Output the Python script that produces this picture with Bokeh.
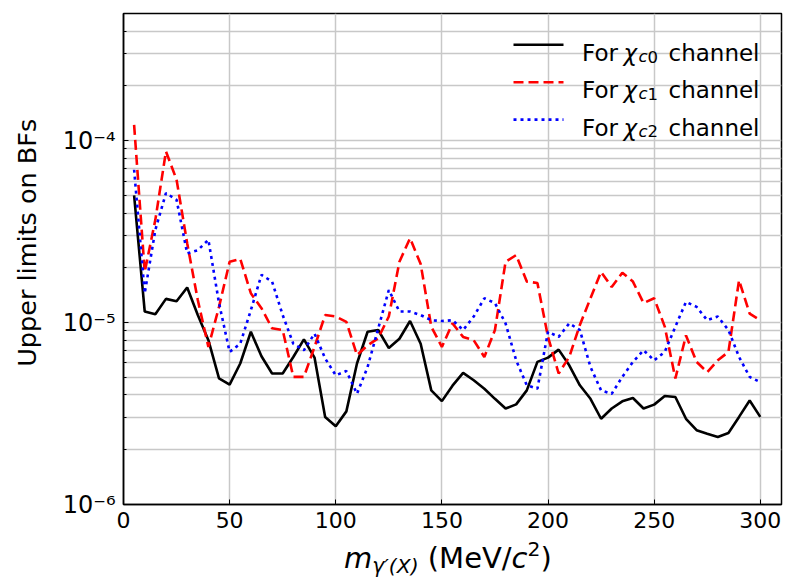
from bokeh.plotting import figure
from bokeh.models import Label, Arrow, FixedTicker, CustomJSTickFormatter, Range1d, Div
from bokeh.layouts import column
from bokeh.embed import file_html
from bokeh.resources import INLINE

# ---------------- data ----------------
mass = [5, 10, 15, 20, 25, 30, 35, 40, 45, 50, 55, 60, 65, 70, 75, 80, 85, 90, 95, 100,
        105, 110, 115, 120, 125, 130, 135, 140, 145, 150, 155, 160, 165, 170, 175, 180, 185, 190, 195, 200,
        205, 210, 215, 220, 225, 230, 235, 240, 245, 250, 255, 260, 265, 270, 275, 280, 285, 290, 295, 300]

ul_chic0 = [5.0e-5, 1.15e-5, 1.11e-5, 1.35e-5, 1.31e-5, 1.56e-5, 1.10e-5, 8.0e-6, 4.93e-6, 4.56e-6,
            5.96e-6, 8.9e-6, 6.53e-6, 5.25e-6, 5.25e-6, 6.47e-6, 8.08e-6, 6.42e-6, 3.03e-6, 2.69e-6,
            3.25e-6, 5.96e-6, 8.9e-6, 9.1e-6, 7.24e-6, 8.15e-6, 1.02e-5, 7.65e-6, 4.24e-6, 3.7e-6,
            4.5e-6, 5.29e-6, 4.82e-6, 4.33e-6, 3.81e-6, 3.37e-6, 3.55e-6, 4.24e-6, 6.08e-6, 6.42e-6,
            7.1e-6, 5.82e-6, 4.52e-6, 3.81e-6, 2.96e-6, 3.37e-6, 3.69e-6, 3.85e-6, 3.37e-6, 3.54e-6,
            3.95e-6, 3.9e-6, 2.96e-6, 2.56e-6, 2.45e-6, 2.35e-6, 2.47e-6, 3.03e-6, 3.73e-6, 3.03e-6]

ul_chic1 = [1.22e-4, 1.9e-5, 3.67e-5, 8.73e-5, 6.1e-5, 2.73e-5, 1.33e-5, 7.35e-6, 1.22e-5, 2.16e-5,
            2.24e-5, 1.45e-5, 1.2e-5, 9.3e-6, 9.1e-6, 5.03e-6, 5.03e-6, 7.35e-6, 1.1e-5, 1.08e-5,
            1.01e-5, 6.62e-6, 7.5e-6, 8.2e-6, 1.08e-5, 2.16e-5, 2.91e-5, 2.1e-5, 9.5e-6, 7.35e-6,
            9.9e-6, 8.34e-6, 8.0e-6, 6.47e-6, 9.1e-6, 2.16e-5, 2.35e-5, 1.68e-5, 1.65e-5, 8.34e-6,
            5.25e-6, 6.47e-6, 9.7e-6, 1.36e-5, 1.9e-5, 1.57e-5, 1.88e-5, 1.68e-5, 1.28e-5, 1.36e-5,
            9.5e-6, 4.93e-6, 8.5e-6, 6.08e-6, 5.34e-6, 6.2e-6, 6.9e-6, 1.71e-5, 1.12e-5, 1.03e-5]

ul_chic2 = [6.92e-5, 1.45e-5, 3.23e-5, 5.15e-5, 4.73e-5, 2.4e-5, 2.5e-5, 2.85e-5, 1.28e-5, 6.9e-6,
            7.65e-6, 1.17e-5, 1.83e-5, 1.68e-5, 1.1e-5, 7.65e-6, 7.05e-6, 8.7e-6, 6.35e-6, 5.13e-6,
            5.42e-6, 4.06e-6, 5.7e-6, 9.27e-6, 1.51e-5, 1.15e-5, 1.15e-5, 1.1e-5, 1.03e-5, 1.02e-5,
            1.03e-5, 9.1e-6, 1.08e-5, 1.36e-5, 1.28e-5, 9.9e-6, 6.2e-6, 4.52e-6, 4.33e-6, 8.9e-6,
            8.34e-6, 9.9e-6, 9.1e-6, 5.7e-6, 4.24e-6, 4.06e-6, 5.03e-6, 6.08e-6, 7.05e-6, 6.2e-6,
            6.9e-6, 9.5e-6, 1.3e-5, 1.22e-5, 1.03e-5, 1.08e-5, 9.1e-6, 6.47e-6, 5.03e-6, 4.7e-6]

x_ticks = [0, 50, 100, 150, 200, 250, 300]
y_major = [1e-6, 1e-5, 1e-4]
y_minor = [m * d for d in (1e-6, 1e-5, 1e-4) for m in range(2, 10)]

legend_subs = ["0", "1", "2"]

FONT = "DejaVu Sans"

p = figure(width=785, height=540, output_backend="svg", toolbar_location=None,
           y_axis_type="log", x_range=Range1d(0, 310), y_range=Range1d(1e-6, 5e-4),
           min_border_left=123, min_border_right=4, min_border_top=13, min_border_bottom=36)
p.background_fill_color = "white"
p.border_fill_color = "white"
p.outline_line_color = "black"
p.outline_line_width = 1.5

# axes
p.xaxis.ticker = FixedTicker(ticks=x_ticks)
p.yaxis.ticker = FixedTicker(ticks=y_major, minor_ticks=y_minor)
p.yaxis.formatter = CustomJSTickFormatter(code="""
const e = Math.round(Math.log10(tick));
const sup = {"-":"\u207b","0":"\u2070","1":"\u00b9","2":"\u00b2","3":"\u00b3","4":"\u2074","5":"\u2075","6":"\u2076","7":"\u2077","8":"\u2078","9":"\u2079"};
return "10" + String(e).split("").map(c => sup[c]).join("");
""")
for ax in (p.xaxis[0], p.yaxis[0]):
    ax.axis_line_color = "black"
    ax.axis_line_width = 1.5
    ax.major_tick_in = 5
    ax.major_tick_out = 0
    ax.minor_tick_in = 3
    ax.minor_tick_out = 0
    ax.major_tick_line_color = "black"
    ax.minor_tick_line_color = "black"
    ax.major_label_text_font = FONT
    ax.major_label_text_color = "black"
p.xaxis.major_label_text_font_size = "22px"
p.xaxis.major_label_standoff = 7
p.yaxis.major_label_text_font_size = "24px"
p.yaxis.major_label_standoff = 8

p.yaxis.axis_label = "\u00a0\u00a0\u00a0\u00a0Upper limits on BFs"
p.yaxis.axis_label_text_font = FONT
p.yaxis.axis_label_text_font_size = "25.5px"
p.yaxis.axis_label_text_font_style = "normal"
p.yaxis.axis_label_text_color = "black"
p.yaxis.axis_label_standoff = 18

p.xgrid.grid_line_color = "#c8c8c8"
p.xgrid.grid_line_width = 1.5
p.ygrid.grid_line_color = "#c8c8c8"
p.ygrid.grid_line_width = 1.5
p.ygrid.minor_grid_line_color = "#c8c8c8"
p.ygrid.minor_grid_line_width = 1.5

# data lines
p.line(mass, ul_chic0, line_color="black", line_width=2.6)
p.line(mass, ul_chic1, line_color="#ff0000", line_width=2.6, line_dash="10 5")
p.line(mass, ul_chic2, line_color="#0000ff", line_width=2.6, line_dash="3 4")

# legend (screen px measured from the frame's bottom-left corner)
styles = [("black", "solid"), ("#ff0000", "10 5"), ("#0000ff", "3 4")]
for i, ((col, dash), s) in enumerate(zip(styles, legend_subs)):
    line_y = 459.7 - 37.4 * i
    base_y = 451.5 - 37.4 * i
    sub_y = base_y - 3.5
    p.add_layout(Arrow(x_start=390, y_start=line_y, x_end=440, y_end=line_y,
                       start_units="screen", end_units="screen", start=None, end=None,
                       line_color=col, line_width=2.6, line_dash=dash))
    common = dict(x_units="screen", y_units="screen", text_font=FONT, text_color="black",
                  text_baseline="alphabetic", text_align="left")
    p.add_layout(Label(x=458.5, y=base_y, text="For", text_font_size="23px", **common))
    p.add_layout(Label(x=500, y=base_y, text="\u03c7", text_font_size="23px",
                       text_font_style="italic", **common))
    p.add_layout(Label(x=515, y=sub_y, text="c", text_font_size="16.5px",
                       text_font_style="italic", **common))
    p.add_layout(Label(x=524, y=sub_y, text=s, text_font_size="16.5px", **common))
    p.add_layout(Label(x=545, y=base_y, text="channel", text_font_size="23px", **common))

# x-axis title (rich text, below the plot)
xlabel_html = (
    '<span style="font-style:italic">m</span>'
    '<span style="font-style:italic;font-size:20.3px;position:relative;top:5px">\u03b3\u2032(X)</span>'
    ' (MeV/<span style="font-style:italic">c</span>'
    '<span style="font-size:20.3px;position:relative;top:-12px">2</span>)'
)
xlabel = Div(text=xlabel_html, width=785, height=36, margin=(0, 0, 0, 0),
             styles={"font-family": FONT, "font-size": "29px", "line-height": "36px",
                     "color": "black", "padding-left": "344px", "white-space": "nowrap",
                     "background-color": "white"})

layout = column(p, xlabel, spacing=0)
open("out.html", "w").write(file_html(layout, INLINE))
